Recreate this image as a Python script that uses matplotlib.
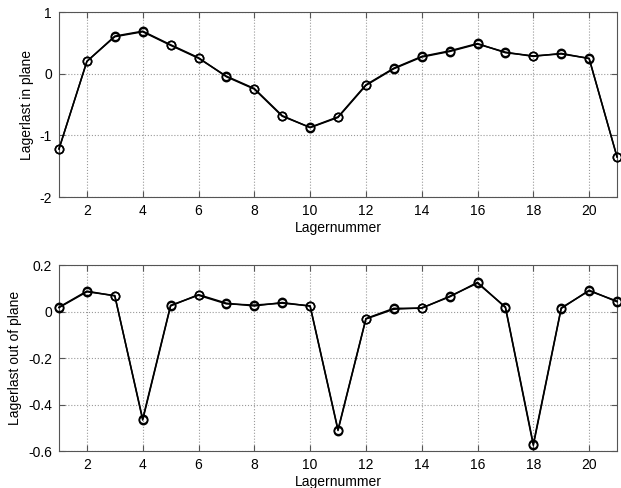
import matplotlib
matplotlib.use("Agg")
import matplotlib.pyplot as plt
import numpy as np

plt.rcParams['font.family'] = ['Liberation Sans', 'DejaVu Sans']

lager = list(range(1, 22))
inplane_a = [-1.22, 0.20, 0.60, 0.68, 0.46, 0.25, -0.04, -0.24, -0.68, -0.875, -0.71,
             -0.19, 0.08, 0.27, 0.36, 0.48, 0.35, 0.28, 0.33, 0.245, -1.35]
inplane_b = [-1.22, 0.20, 0.61, 0.69, 0.47, 0.26, -0.05, -0.25, -0.69, -0.87, -0.70,
             -0.18, 0.09, 0.28, 0.37, 0.49, 0.34, 0.29, 0.32, 0.25, -1.35]
outplane_a = [0.017, 0.085, 0.069, -0.467, 0.024, 0.073, 0.036, 0.024, 0.039, 0.023, -0.512,
              -0.032, 0.010, 0.016, 0.063, 0.126, 0.017, -0.576, 0.013, 0.092, 0.042]
outplane_b = [0.019, 0.088, 0.067, -0.462, 0.027, 0.070, 0.033, 0.028, 0.036, 0.025, -0.508,
              -0.030, 0.014, 0.014, 0.066, 0.122, 0.020, -0.570, 0.016, 0.089, 0.045]

xticks = [2, 4, 6, 8, 10, 12, 14, 16, 18, 20]

fig = plt.figure(figsize=(6.21, 4.88), dpi=100)
ax1 = fig.add_axes([0.095, 0.5963, 0.8986, 0.379])
ax2 = fig.add_axes([0.095, 0.0758, 0.8986, 0.381])

def style(ax, yticks, ylabel):
    ax.set_xlim(1, 21)
    ax.set_xticks(xticks)
    ax.set_yticks(yticks)
    ax.grid(True, linestyle=':', color='#999999', linewidth=0.8)
    ax.tick_params(direction='in', top=True, right=True, labelsize=10, length=4,
                   color='#555555', pad=5)
    for s in ax.spines.values():
        s.set_color('#555555')
        s.set_linewidth(0.8)
    ax.set_xlabel('Lagernummer', fontsize=10, labelpad=2)
    ax.set_ylabel(ylabel, fontsize=10, labelpad=4)

for ys in (inplane_a, inplane_b):
    ax1.plot(lager, ys, color='black', lw=1.1, marker='o', markersize=6,
             markerfacecolor='none', markeredgewidth=1.1, clip_on=False, zorder=3)
ax1.set_ylim(-2, 1)
style(ax1, [-2, -1, 0, 1], 'Lagerlast in plane')
ax1.set_yticklabels(['-2', '-1', '0', '1'])

for ys in (outplane_a, outplane_b):
    ax2.plot(lager, ys, color='black', lw=1.1, marker='o', markersize=6,
             markerfacecolor='none', markeredgewidth=1.1, clip_on=False, zorder=3)
ax2.set_ylim(-0.6, 0.2)
style(ax2, [-0.6, -0.4, -0.2, 0, 0.2], 'Lagerlast out of plane')
ax2.set_yticklabels(['-0.6', '-0.4', '-0.2', '0', '0.2'])

fig.savefig('out.png', dpi=100)
